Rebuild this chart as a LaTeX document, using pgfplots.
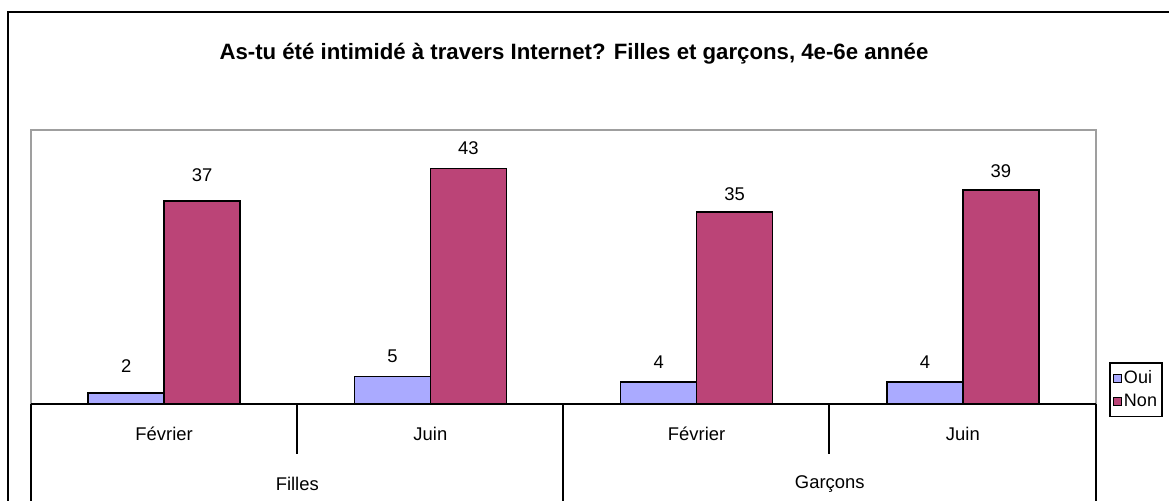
\documentclass[border=0pt]{standalone}
\usepackage{pgfplots}
\pgfplotsset{compat=1.18}
\usepackage{pgfplotstable}
\usepackage{fontspec}
\setmainfont{Liberation Sans}
\definecolor{oui}{RGB}{170,170,255}
\definecolor{non}{RGB}{187,68,119}

% x y s  (s = gap between bar top and its label, pt)
\pgfplotstableread{
x y s
0 2 10
1 5 6.5
2 4 6.5
3 4 6.5
}\oui
\pgfplotstableread{
x y s
0 37 9.5
1 43 6.5
2 35 5.5
3 39 6
}\non

\begin{document}
\begin{tikzpicture}[x=0.5pt,y=0.5pt]
\useasboundingbox (0,0) rectangle (1169,500);
\clip (0,0) rectangle (1169,500);
\draw[line width=1pt] (8,-20) -- (8,488) -- (1200,488);
\node[font=\fontsize{11.1}{13}\selectfont\bfseries] at (574,446)
  {As-tu été intimidé à travers Internet? Filles et garçons, 4e-6e année};
\begin{axis}[
    at={(15.5pt,48pt)}, anchor=south west,
    scale only axis, width=532.5pt, height=137pt,
    xmin=-0.5, xmax=3.5, ymin=0, ymax=50,
    ybar=0pt, bar width=38pt,
    axis line style={gray!75, line width=0.8pt},
    ytick=\empty,
    xtick={0,1,2,3}, xticklabels={Février,Juin,Février,Juin},
    extra x ticks={0.5,2.5}, extra x tick labels={Filles,Garçons},
    major tick length=0pt,
    tick label style={font=\fontsize{9.2}{11}\selectfont},
    xticklabel style={anchor=center, yshift=-15pt},
    extra x tick style={xticklabel style={yshift=-25pt}},
    /pgf/number format/assume math mode=true,
    nodes near coords,
    visualization depends on={\thisrow{s}\as\gap},
    every node near coord/.append style={font=\fontsize{9.2}{11}\selectfont,
        anchor=south, inner sep=0pt, yshift=\gap pt, text=black},
    legend style={at={(1.0122,0.1533)}, anchor=north west, draw=black,
        line width=0.8pt, font=\fontsize{9}{10}\selectfont,
        inner xsep=1.5pt, inner ysep=2pt, row sep=0pt,
        nodes={inner xsep=1pt, inner ysep=1.8pt},
        /tikz/every even column/.append style={column sep=0pt}},
    legend image code/.code={\draw[#1, line width=0.6pt] (0pt,-2pt) rectangle (4pt,2pt);},
    legend cell align=left,
]
\addplot[fill=oui, draw=black, line width=0.8pt] table[x=x, y=y] {\oui};
\addplot[fill=non, draw=black, line width=0.8pt] table[x=x, y=y] {\non};
\legend{Oui, Non}
\end{axis}
\draw[line width=1pt] (31,96) -- (1096,96);
\draw[line width=1pt] (31,96) -- (31,-5);
\draw[line width=1pt] (563,96) -- (563,-5);
\draw[line width=1pt] (1095.5,96) -- (1095.5,-5);
\draw[line width=1pt] (297,96) -- (297,46);
\draw[line width=1pt] (829,96) -- (829,46);
\end{tikzpicture}
\end{document}
